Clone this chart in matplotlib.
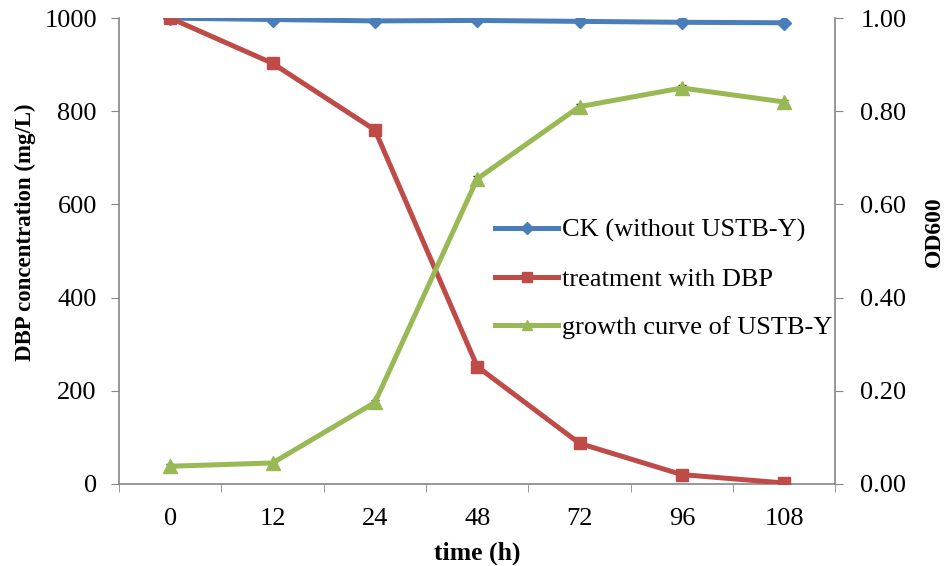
import matplotlib
matplotlib.use("Agg")
import matplotlib.pyplot as plt
from matplotlib.lines import Line2D
import numpy as np

times = ["0", "12", "24", "48", "72", "96", "108"]
ck = [1000, 997, 994, 995, 993, 991, 990]
ck_err = [3, 3, 3, 3, 3, 3, 3]
dbp = [1000, 903, 760, 252, 87, 20, 2]
dbp_err = [4, 4, 5, 5, 4, 3, 2]
od = [0.038, 0.045, 0.175, 0.655, 0.81, 0.85, 0.82]
od_err = [0.004, 0.003, 0.005, 0.005, 0.006, 0.006, 0.005]

plt.rcParams['font.family'] = ['Liberation Serif', 'DejaVu Serif']
gray = '#868686'

fig = plt.figure(figsize=(9.45, 5.66), dpi=100)
ax = fig.add_axes([0.126, 0.145, 0.758, 0.823])
ax2 = ax.twinx()
x = np.arange(len(times))

blue = '#4a7ebb'
red = '#be4b48'
green = '#98b954'

ax.errorbar(x, ck, yerr=ck_err, color=blue, lw=3.6, marker='D', ms=7,
            ecolor='#222222', elinewidth=1, capsize=3, zorder=3)
ax.errorbar(x, dbp, yerr=dbp_err, color=red, lw=3.6, marker='s', ms=9,
            ecolor='#222222', elinewidth=1, capsize=3, zorder=3)
ax2.errorbar(x, od, yerr=od_err, color=green, lw=3.6, marker='^', ms=10,
             ecolor='#222222', elinewidth=1, capsize=3, zorder=3)

ax.set_xlim(-0.5, len(times) - 0.5)
ax.set_ylim(0, 1000)
ax2.set_ylim(0, 1.0)
ax.set_yticks(np.arange(0, 1001, 200))
ax2.set_yticks(np.arange(0, 1.01, 0.2))
ax2.set_yticklabels([f"{v:.2f}" for v in np.arange(0, 1.01, 0.2)])
ax.set_xticks(x)
ax.set_xticklabels(times)
ax.set_xticks(np.arange(-0.5, len(times), 1.0), minor=True)
ax.tick_params(axis='x', which='major', length=0, labelsize=19, pad=17)
ax.tick_params(axis='x', which='minor', length=6, color=gray, direction='out')
ax.tick_params(axis='y', length=6, color=gray, labelsize=19, direction='out', pad=10)
ax2.tick_params(axis='y', length=6, color=gray, labelsize=19, direction='out', pad=12)

for a in (ax, ax2):
    a.spines['top'].set_visible(False)
    for s in ('left', 'right', 'bottom'):
        a.spines[s].set_color(gray)
        a.spines[s].set_linewidth(1.2)
ax.spines['right'].set_visible(False)
ax2.spines['left'].set_visible(False)
ax2.spines['bottom'].set_visible(False)

ax.set_xlabel('time (h)', fontsize=18.5, fontweight='bold')
ax.xaxis.set_label_coords(0.5, -0.1245)
ax.set_ylabel('DBP concentration (mg/L)', fontsize=16.5, fontweight='bold')
ax.yaxis.set_label_coords(-0.116, 0.541)
ax2.set_ylabel('OD600', fontsize=17, fontweight='bold')
ax2.yaxis.set_label_coords(1.124, 0.541)

handles = [
    Line2D([], [], color=blue, lw=3.6, marker='D', ms=6),
    Line2D([], [], color=red, lw=3.6, marker='s', ms=7),
    Line2D([], [], color=green, lw=3.6, marker='^', ms=7),
]
labels = ['CK (without USTB-Y)', 'treatment with DBP', 'growth curve of USTB-Y']
ax2.legend(handles, labels, loc='upper left', bbox_to_anchor=(0.525, 0.57),
           frameon=False, fontsize=19, handlelength=2.4, handletextpad=0.15,
           labelspacing=0.95, borderaxespad=0, borderpad=0)

fig.savefig('out.png', dpi=100)
